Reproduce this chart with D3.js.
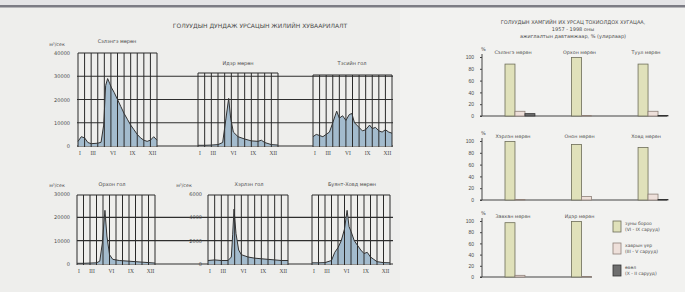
<!DOCTYPE html>
<html>
<head>
<meta charset="utf-8">
<script src="https://cdn.jsdelivr.net/npm/d3@7"></script>
<style>
  body { margin: 0; background: #f1f1ef; }
  svg { display: block; font-family: "DejaVu Sans", sans-serif; }
</style>
</head>
<body>
<div id="chart"></div>
<script>
// Hydrograph data: [month position, flow m3/s]
const riverNames = ["Сэлэнгэ мөрөн", "Идэр мөрөн", "Тэсийн гол", "Орхон гол", "Хэрлэн гол", "Буянт-Ховд мөрөн"];
const flowSelenge = [[0, 2000], [0.5, 4000], [1, 3500], [1.5, 1500], [2, 1000], [3, 1200], [3.5, 1600], [3.9, 9000],
  [4.2, 26000], [4.5, 29000], [4.8, 27000], [5.1, 25000], [5.5, 23000], [6, 20000], [6.5, 17000], [7, 14000],
  [7.5, 11500], [8, 9000], [8.5, 7000], [9, 5000], [9.5, 3500], [10, 2500], [10.5, 2000], [11, 2500], [11.5, 4000], [12, 2500]];
const flowIder = [[0, 300], [1, 300], [2, 400], [3, 600], [3.7, 1500], [4.2, 12000], [4.6, 20500], [4.9, 12000],
  [5.3, 6000], [6, 4000], [7, 3000], [8, 2200], [9, 2000], [9.5, 2500], [10, 1500], [11, 600], [12, 400]];
const flowTes = [[0, 4000], [0.5, 5000], [1, 4500], [1.5, 4000], [2, 5000], [2.5, 6000], [3, 10000], [3.6, 15000],
  [4, 12000], [4.5, 13000], [5, 11000], [5.5, 13500], [5.9, 14000], [6.3, 10000], [7, 8000], [7.5, 6500],
  [8, 7000], [8.6, 9000], [9, 7500], [9.5, 8000], [10, 6500], [10.5, 6000], [11, 7000], [11.5, 6000], [12, 5500]];
const flowOrkhon = [[0, 300], [1, 300], [2, 400], [3, 500], [3.5, 1200], [3.9, 9000], [4.3, 23000], [4.6, 12000],
  [5, 4000], [5.5, 2000], [6.5, 1500], [8, 1200], [10, 800], [12, 400]];
const flowKherlen = [[0, 300], [1, 350], [2, 300], [3, 300], [3.5, 600], [3.7, 2500], [3.9, 4700], [4.2, 2600],
  [4.6, 1200], [5, 800], [6, 600], [7, 500], [8, 450], [9, 400], [10, 350], [11, 300], [12, 300]];
const flowBuyant = [[0, 500], [1, 500], [2, 600], [3, 1500], [3.5, 5000], [4, 7000], [4.5, 10000], [5, 15000],
  [5.4, 23000], [5.7, 16000], [6, 14000], [6.5, 10000], [7, 8000], [7.5, 6000], [8, 4500], [8.5, 5000],
  [9, 3000], [9.5, 2000], [10, 1000], [11, 600], [12, 500]];
const flowSeries = [flowSelenge, flowIder, flowTes, flowOrkhon, flowKherlen, flowBuyant];
const flowMax = [40000, 40000, 40000, 30000, 6000, 30000];
const monthLabels = ["I", "III", "VI", "IX", "XII"];
const monthNums = [1, 3, 6, 9, 12];

// Seasonal share of annual maximum flow, %
const barRivers = [["Сэлэнгэ мөрөн", "Орхон мөрөн", "Туул мөрөн"],
  ["Хэрлэн мөрөн", "Онон мөрөн", "Ховд мөрөн"],
  ["Завхан мөрөн", "Идэр мөрөн"]];
const summerPct = [[88, 99, 88], [99, 94, 89], [97, 99]];
const springPct = [[8, 1, 8], [1, 6, 10], [3, 1]];
const winterPct = [[4, 0, 1], [0, 0, 1], [0, 0]];
const pctTicks = [0, 20, 40, 60, 80, 100];
const legendLabels = [["зуны бороо", "(VI - IX сарууд)"], ["хаврын үер", "(III - V сарууд)"], ["өвөл", "(X - II сарууд)"]];

const width = 685, height = 292;
const svg = d3.select("#chart").append("svg").attr("width", width).attr("height", height);

// scan background
svg.append("rect").attr("width", width).attr("height", height).attr("fill", "#f2f2f0");
svg.append("rect").attr("width", 400).attr("height", height).attr("fill", "#eeeeec");
svg.append("rect").attr("y", 0).attr("width", width).attr("height", 5).attr("fill", "#e4e4e6");
svg.append("rect").attr("y", 5).attr("width", width).attr("height", 2.5).attr("fill", "#7c7c84");

const txt = "#4a4a4a";

svg.append("text").attr("x", 260).attr("y", 28).attr("text-anchor", "middle")
  .attr("font-size", 6).attr("fill", txt).text("ГОЛУУДЫН ДУНДАЖ УРСАЦЫН ЖИЛИЙН ХУВААРИЛАЛТ");

// ---------- Hydrographs ----------
const layout = [
  { x0: 78, x1: 157, top: 53, base: 146, yTop: 53, tx: 117, ty: 43 },
  { x0: 198, x1: 278, top: 73, base: 146, yTop: 53, tx: 238, ty: 65 },
  { x0: 313, x1: 392, top: 75, base: 146, yTop: 53, tx: 352, ty: 65 },
  { x0: 77, x1: 155, top: 195, base: 264, yTop: 194, tx: 112, ty: 186 },
  { x0: 208, x1: 288, top: 195, base: 264, yTop: 194, tx: 249, ty: 186 },
  { x0: 312, x1: 390, top: 195, base: 264, yTop: 194, tx: 352, ty: 186 }
];

// row-wide horizontal grid lines
const rowScales = [
  { y: d3.scaleLinear().domain([0, 40000]).range([146, 53]), ticks: [0, 10000, 20000, 30000] },
  { y: d3.scaleLinear().domain([0, 30000]).range([264, 194]), ticks: [0, 10000, 20000] }
];
rowScales.forEach(r => {
  svg.append("g").selectAll("line").data(r.ticks).enter().append("line")
    .attr("x1", 77).attr("x2", 393)
    .attr("y1", d => r.y(d)).attr("y2", d => r.y(d))
    .attr("stroke", "#2e2e2e").attr("stroke-width", 1.1);
});

flowSeries.forEach((data, i) => {
  const L = layout[i];
  const x = d3.scaleLinear().domain([0, 12]).range([L.x0, L.x1]);
  const y = d3.scaleLinear().domain([0, flowMax[i]]).range([L.base, L.yTop]);
  const g = svg.append("g");

  g.append("path").datum(data)
    .attr("d", d3.area().x(d => x(d[0])).y0(L.base).y1(d => y(d[1])))
    .attr("fill", "#a3bbcd");

  // month lines
  g.selectAll("line.m").data(d3.range(13)).enter().append("line")
    .attr("x1", d => x(d)).attr("x2", d => x(d))
    .attr("y1", L.top).attr("y2", L.base + 1)
    .attr("stroke", "#2a2a2a").attr("stroke-width", 1);
  g.append("line").attr("x1", L.x0).attr("x2", L.x1).attr("y1", L.top).attr("y2", L.top)
    .attr("stroke", "#2a2a2a").attr("stroke-width", 1);

  g.append("path").datum(data)
    .attr("d", d3.line().x(d => x(d[0])).y(d => y(d[1])))
    .attr("fill", "none").attr("stroke", "#333").attr("stroke-width", 1);

  g.selectAll("text.m").data(monthLabels).enter().append("text")
    .attr("x", (d, j) => x(monthNums[j] - 1) + 2)
    .attr("y", L.base + 9)
    .attr("text-anchor", "middle").attr("font-size", 5.5).attr("fill", txt)
    .attr("font-family", "Liberation Serif, serif")
    .text(d => d);

  g.append("text").attr("x", L.tx).attr("y", L.ty).attr("text-anchor", "middle")
    .attr("font-size", 5).attr("fill", txt).text(riverNames[i]);
});

// y axis labels for charts 1, 4, 5
[[0, 70, 57], [3, 70, 57], [4, 202, 184]].forEach(([i, lx, ux]) => {
  const L = layout[i];
  const y = d3.scaleLinear().domain([0, flowMax[i]]).range([L.base, L.yTop]);
  const ticks = d3.range(0, flowMax[i] + 1, flowMax[i] === 40000 ? 10000 : flowMax[i] / 3);
  svg.append("g").selectAll("text").data(ticks).enter().append("text")
    .attr("x", lx).attr("y", d => y(d) + 2)
    .attr("text-anchor", "end").attr("font-size", 5).attr("fill", txt).text(d => d);
  svg.append("text").attr("x", ux).attr("y", L.yTop - 7).attr("text-anchor", "middle")
    .attr("font-size", 4.8).attr("fill", txt).text("м³/сек");
});

// ---------- Bar charts ----------
const titleLines = ["ГОЛУУДЫН ХАМГИЙН ИХ УРСАЦ ТОХИОЛДОХ ХУГАЦАА,", "1957 - 1998 оны", "ажиглалтын давтамжаар, % (улирлаар)"];
svg.append("g").selectAll("text").data(titleLines).enter().append("text")
  .attr("x", 573).attr("y", (d, i) => 24 + i * 7).attr("text-anchor", "middle")
  .attr("font-size", 5).attr("fill", txt).text(d => d);

const barRows = [{ base: 116, top: 57 }, { base: 200, top: 141 }, { base: 277, top: 221 }];
const xg = d3.scaleBand().domain([0, 1, 2]).range([505, 668]).paddingInner(0.55).paddingOuter(0).align(0);
const xs = d3.scaleBand().domain(["summer", "spring", "winter"]).range([0, xg.bandwidth()]);
const barFill = { summer: "#e0e1ba", spring: "#eee0da", winter: "#6e6e6e" };
const barStroke = { summer: "#6d6d58", spring: "#8e8078", winter: "#333" };

barRows.forEach((r, ri) => {
  const y = d3.scaleLinear().domain([0, 100]).range([r.base, r.top]);
  const g = svg.append("g");
  const n = barRivers[ri].length;
  g.append("line").attr("x1", 482).attr("x2", n === 3 ? 667 : 592)
    .attr("y1", r.base).attr("y2", r.base).attr("stroke", "#444").attr("stroke-width", 1);
  g.append("g").attr("transform", "translate(482,0)")
    .call(d3.axisLeft(y).tickValues(pctTicks).tickSize(2).tickPadding(6))
    .call(a => a.selectAll("text").attr("font-size", 5).attr("fill", txt))
    .call(a => a.selectAll("line,path").attr("stroke", "#444"))
    .call(a => a.select(".domain").attr("d", `M-2,${r.base}H0V${r.top - 3}`));
  g.append("text").attr("x", 481).attr("y", r.top - 6).attr("font-size", 5).attr("fill", txt).text("%");

  barRivers[ri].forEach((name, gi) => {
    const vals = { summer: summerPct[ri][gi], spring: springPct[ri][gi], winter: winterPct[ri][gi] };
    Object.keys(vals).forEach(k => {
      if (vals[k] <= 0) return;
      g.append("rect")
        .attr("x", xg(gi) + xs(k)).attr("width", xs.bandwidth())
        .attr("y", y(vals[k])).attr("height", r.base - y(vals[k]))
        .attr("fill", barFill[k]).attr("stroke", barStroke[k]).attr("stroke-width", 0.8);
    });
    g.append("text").attr("x", xg(gi) + 8).attr("y", r.top - 3).attr("text-anchor", "middle")
      .attr("font-size", 4.8).attr("fill", txt).text(name);
  });
});

// legend
const legendKeys = ["summer", "spring", "winter"];
const lg = svg.append("g");
legendKeys.forEach((k, i) => {
  const yy = 221 + i * 22;
  lg.append("rect").attr("x", 613).attr("y", yy).attr("width", 8).attr("height", 11)
    .attr("fill", barFill[k]).attr("stroke", barStroke[k]).attr("stroke-width", 0.8);
  legendLabels[i].forEach((t, j) => {
    lg.append("text").attr("x", 625).attr("y", yy + 4 + j * 6).attr("font-size", 4.5)
      .attr("fill", txt).text(t);
  });
});
</script>
</body>
</html>
